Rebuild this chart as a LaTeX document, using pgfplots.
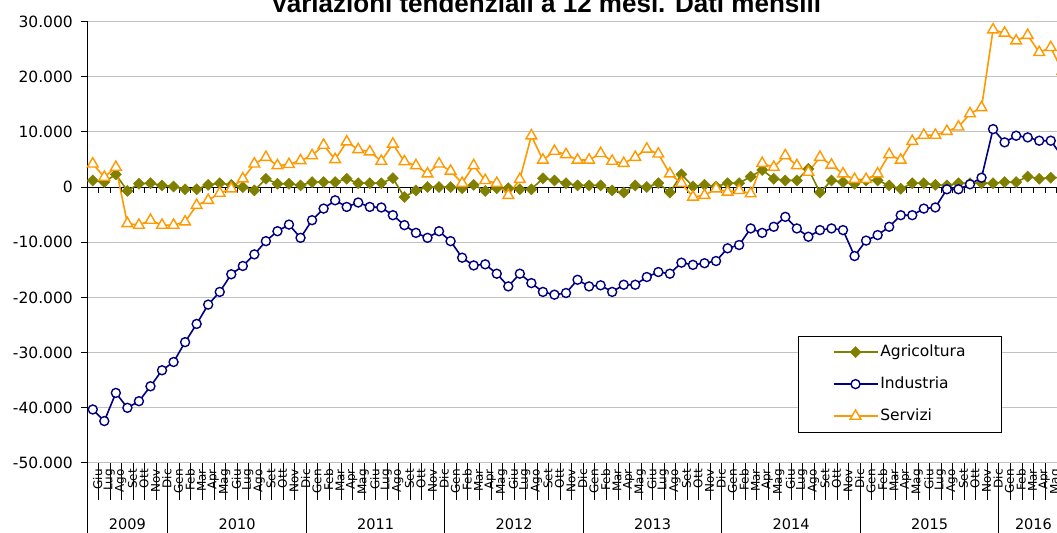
\documentclass[border=0pt]{standalone}
\usepackage{pgfplots}
\pgfplotsset{compat=1.18}
\usepackage{pgfplotstable}
\usepackage{fontspec}
\setmainfont{DejaVu Sans}
\newfontfamily\titlefamily{Liberation Sans}
\definecolor{agri}{HTML}{808000}
\definecolor{indu}{HTML}{000080}
\definecolor{serv}{HTML}{FF9900}
\definecolor{gridgray}{HTML}{C0C0C0}
\newcommand\tickfont{\fontsize{15.5bp}{18bp}\selectfont}
\newcommand\yearfont{\fontsize{14.5bp}{17bp}\selectfont}
\newcommand\monthfont{\fontsize{12bp}{14bp}\selectfont}

% month index (0 = Giu 2009), values in thousands
\pgfplotstableread{
i agri indu serv
0 1.2 -40.3 4.2
1 0.9 -42.4 1.8
2 2.3 -37.3 3.6
3 -0.7 -40.0 -6.6
4 0.6 -38.8 -6.9
5 0.7 -36.1 -6.0
6 0.3 -33.2 -6.9
7 0.1 -31.7 -6.9
8 -0.4 -28.1 -6.3
9 -0.4 -24.8 -3.3
10 0.4 -21.3 -2.4
11 0.7 -19.0 -1.1
12 0.4 -15.8 -0.3
13 0.0 -14.3 1.5
14 -0.6 -12.2 4.2
15 1.5 -9.8 5.4
16 0.6 -8.0 3.9
17 0.6 -6.8 4.1
18 0.3 -9.2 4.8
19 0.9 -6.0 5.7
20 0.9 -3.9 7.6
21 0.9 -2.4 5.0
22 1.5 -3.6 8.2
23 0.7 -2.8 6.8
24 0.7 -3.6 6.4
25 0.7 -3.7 4.7
26 1.6 -5.1 7.8
27 -1.8 -6.9 4.6
28 -0.6 -8.3 3.9
29 0.0 -9.2 2.4
30 0.0 -8.0 4.2
31 0.0 -9.8 2.9
32 -0.2 -12.8 0.7
33 0.4 -14.2 3.9
34 -0.7 -14.0 1.2
35 -0.2 -15.7 0.7
36 -0.2 -18.0 -1.5
37 -0.4 -15.7 1.4
38 -0.4 -17.4 9.3
39 1.6 -19.0 4.9
40 1.2 -19.5 6.5
41 0.7 -19.2 5.9
42 0.3 -16.8 4.9
43 0.3 -18.0 4.9
44 0.3 -17.8 6.1
45 -0.6 -19.0 4.7
46 -1.0 -17.7 4.3
47 0.3 -17.7 5.4
48 0.0 -16.3 6.9
49 0.7 -15.4 6.0
50 -1.0 -15.7 2.4
51 2.3 -13.7 0.7
52 0.1 -14.1 -1.8
53 0.4 -13.8 -1.5
54 0.1 -13.4 -0.3
55 0.7 -11.1 -0.9
56 0.7 -10.5 -0.6
57 1.9 -7.5 -1.2
58 3.1 -8.3 4.3
59 1.5 -7.2 3.6
60 1.2 -5.4 5.7
61 1.2 -7.5 3.9
62 3.3 -9.0 2.7
63 -1.0 -7.8 5.4
64 1.2 -7.5 4.0
65 0.9 -7.8 2.4
66 0.6 -12.5 1.4
67 1.2 -9.7 1.4
68 1.2 -8.7 2.4
69 0.3 -7.2 5.9
70 -0.3 -5.1 4.9
71 0.7 -5.1 8.3
72 0.7 -3.9 9.4
73 0.4 -3.7 9.4
74 0.3 -0.4 10.1
75 0.7 -0.4 10.9
76 0.7 0.5 13.3
77 0.7 1.7 14.4
78 0.7 10.5 28.5
79 0.9 8.1 27.9
80 0.9 9.3 26.5
81 1.9 9.0 27.5
82 1.5 8.4 24.4
83 1.7 8.4 25.3
84 1.7 5.5 21.0
}\datatab

\begin{document}
\begin{tikzpicture}
\useasboundingbox (0,0) rectangle (1057bp,533bp);
\node[anchor=base, font=\titlefamily\bfseries\fontsize{26bp}{30bp}\selectfont]
  at (546bp,520bp) {Variazioni tendenziali a 12 mesi. Dati mensili};
\begin{axis}[
  at={(87bp,70bp)}, anchor=south west,
  scale only axis, width=970bp, height=441.5bp,
  xmin=-0.5, xmax=83.54, ymin=-50, ymax=30,
  clip=false,
  axis y line=left, axis x line=bottom,
  axis line style={-, black, line width=1bp},
  x axis line style={draw=none},
  tick align=outside, major tick length=6bp,
  ytick={-50,-40,...,30},
  yticklabels={\mbox{-50.000},\mbox{-40.000},\mbox{-30.000},\mbox{-20.000},\mbox{-10.000},
    \mbox{0},\mbox{10.000},\mbox{20.000},\mbox{30.000}},
  ytick style={black, line width=1bp},
  yticklabel style={font=\tickfont, anchor=east, inner sep=0pt, xshift=-8bp},
  ymajorgrids, grid style={gridgray, line width=1bp},
  xtick={0,...,83},
  xticklabels={Giu,Lug,Ago,Set,Ott,Nov,Dic,
    Gen,Feb,Mar,Apr,Mag,Giu,Lug,Ago,Set,Ott,Nov,Dic,
    Gen,Feb,Mar,Apr,Mag,Giu,Lug,Ago,Set,Ott,Nov,Dic,
    Gen,Feb,Mar,Apr,Mag,Giu,Lug,Ago,Set,Ott,Nov,Dic,
    Gen,Feb,Mar,Apr,Mag,Giu,Lug,Ago,Set,Ott,Nov,Dic,
    Gen,Feb,Mar,Apr,Mag,Giu,Lug,Ago,Set,Ott,Nov,Dic,
    Gen,Feb,Mar,Apr,Mag,Giu,Lug,Ago,Set,Ott,Nov,Dic,
    Gen,Feb,Mar,Apr,Mag},
  xtick style={draw=none},
  xticklabel style={font=\monthfont, rotate=90, anchor=east, inner sep=0pt, yshift=-5bp},
  legend style={at={(0.7333,0.2883)}, anchor=north west, draw=black, line width=0.8bp,
    fill=white, font=\tickfont, inner xsep=34bp, inner ysep=7bp, row sep=14bp,
    nodes={text height=11bp, text depth=3bp, inner sep=2bp}},
  legend cell align=left,
  legend image code/.code={\draw[mark repeat=2, mark phase=2, #1]
    plot coordinates {(0bp,0bp) (22bp,0bp) (44bp,0bp)};},
]
% category axis at zero
\draw[black, line width=1bp] (axis cs:-0.5,0) -- (axis cs:83.54,0);
\pgfplotsinvokeforeach{0.5,1.5,...,83.5}{\draw[black, line width=1bp] (axis cs:#1,0) -- (axis cs:#1,-1);}
% month separators below the plot
\pgfplotsinvokeforeach{0.5,1.5,...,82.5}{\draw[black, line width=0.8bp] (axis cs:#1,-50) -- (axis cs:#1,-56.7);}
% year separators and labels
\draw[black, line width=1bp] (axis cs:-0.5,-50) -- (axis cs:-0.5,-64)
  (axis cs:6.5,-50) -- (axis cs:6.5,-64) (axis cs:18.5,-50) -- (axis cs:18.5,-64)
  (axis cs:30.5,-50) -- (axis cs:30.5,-64) (axis cs:42.5,-50) -- (axis cs:42.5,-64)
  (axis cs:54.5,-50) -- (axis cs:54.5,-64) (axis cs:66.5,-50) -- (axis cs:66.5,-64)
  (axis cs:78.5,-50) -- (axis cs:78.5,-64);
\node[anchor=base, font=\yearfont] at (axis cs:3,-62.1) {2009};
\node[anchor=base, font=\yearfont] at (axis cs:12.5,-62.1) {2010};
\node[anchor=base, font=\yearfont] at (axis cs:24.5,-62.1) {2011};
\node[anchor=base, font=\yearfont] at (axis cs:36.5,-62.1) {2012};
\node[anchor=base, font=\yearfont] at (axis cs:48.5,-62.1) {2013};
\node[anchor=base, font=\yearfont] at (axis cs:60.5,-62.1) {2014};
\node[anchor=base, font=\yearfont] at (axis cs:72.5,-62.1) {2015};
\node[anchor=base, font=\yearfont] at (axis cs:81.5,-62.1) {2016};

\addplot[agri, line width=1.6bp, mark=square*, mark size=3.9bp,
  mark options={rotate=45, fill=agri, draw=agri, line width=0.5bp}]
  table[x=i, y=agri]{\datatab};
\addlegendentry{Agricoltura}
\addplot[indu, line width=1.6bp, mark=*, mark size=4.5bp,
  mark options={fill=white, draw=indu, line width=1.4bp}]
  table[x=i, y=indu]{\datatab};
\addlegendentry{Industria}
\addplot[serv, line width=1.6bp, mark=triangle*, mark size=6.2bp,
  mark options={fill=white, draw=serv, line width=1.4bp}]
  table[x=i, y=serv]{\datatab};
\addlegendentry{Servizi}
\end{axis}
\end{tikzpicture}
\end{document}
